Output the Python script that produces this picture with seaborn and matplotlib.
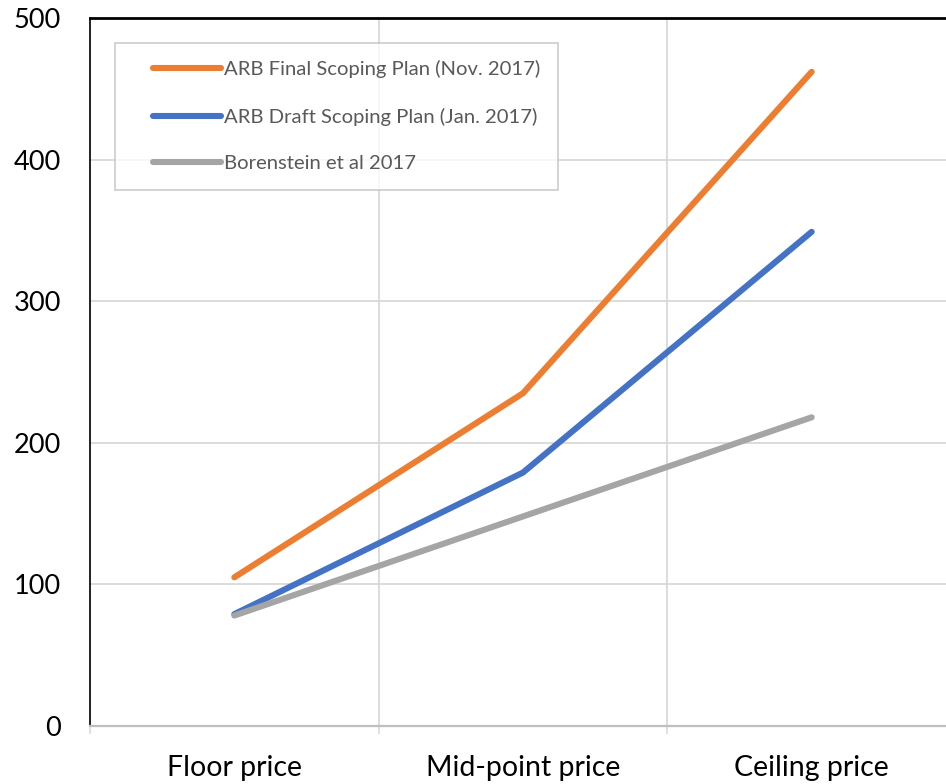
import pandas as pd
import matplotlib.pyplot as plt
import seaborn as sns
from matplotlib.ticker import FixedLocator
from matplotlib.lines import Line2D
from matplotlib.legend_handler import HandlerLine2D

# values
categories = ['Floor price', 'Mid-point price', 'Ceiling price']
final_plan = [105, 235, 462]
draft_plan = [79, 179, 349]
borenstein = [78, 148, 218]
series_names = ['ARB Final Scoping Plan (Nov. 2017)',
                'ARB Draft Scoping Plan (Jan. 2017)',
                'Borenstein et al 2017']
colors = ['#ED7D31', '#4472C4', '#A5A5A5']

df = pd.DataFrame({
    'category': categories * 3,
    'value': final_plan + draft_plan + borenstein,
    'series': [s for s in series_names for _ in categories],
})

sns.set_style('white')
plt.rcParams['font.family'] = ['Lato', 'DejaVu Sans']

fig = plt.figure(figsize=(9.46, 7.84), dpi=100)
W, H = 946, 784
ax = fig.add_axes([90 / W, 58 / H, 866 / W, 708 / H])

sns.lineplot(data=df, x='category', y='value', hue='series', palette=colors,
             hue_order=series_names, sort=False, linewidth=4.4, ax=ax,
             solid_capstyle='round', solid_joinstyle='round')

ax.set_xlim(-0.5, 2.5)
ax.set_ylim(0, 500)
ax.set_yticks(range(0, 501, 100))
ax.set_xticks(range(len(categories)))
ax.set_xticklabels(categories)
ax.xaxis.set_minor_locator(FixedLocator([-0.5, 0.5, 1.5, 2.5]))
ax.set_xlabel('')
ax.set_ylabel('')

ax.grid(axis='y', color='#d9d9d9', linewidth=1.3)
ax.grid(axis='x', which='minor', color='#d9d9d9', linewidth=1.3)
ax.set_axisbelow(True)

ax.tick_params(axis='y', length=0, pad=21, labelsize=19.5, labelcolor='black')
ax.tick_params(axis='x', which='major', length=0, pad=21, labelsize=20.5,
               labelcolor='black')
ax.tick_params(axis='x', which='minor', length=6, width=1.2, color='#d9d9d9',
               direction='out', bottom=True)

ax.spines['top'].set_color('black')
ax.spines['top'].set_linewidth(2.0)
ax.spines['left'].set_color('black')
ax.spines['left'].set_linewidth(1.2)
ax.spines['bottom'].set_color('#bfbfbf')
ax.spines['bottom'].set_linewidth(1.6)
ax.spines['right'].set_visible(False)

leg = ax.legend(loc='upper left', bbox_to_anchor=(115 / W, 1 - 43 / H),
                bbox_transform=fig.transFigure, frameon=True, fancybox=False,
                fontsize=14.6, handlelength=4.4, handletextpad=0.15,
                labelspacing=1.45, borderpad=0.85, borderaxespad=0,
                handler_map={Line2D: HandlerLine2D(xpad=1.0)})
leg.get_frame().set_edgecolor('#bfbfbf')
leg.get_frame().set_linewidth(1.2)
for t in leg.get_texts():
    t.set_color('#595959')
for h in leg.get_lines():
    h.set_linewidth(4.4)
    h.set_solid_capstyle('round')

fig.savefig('out.png', dpi=100)
